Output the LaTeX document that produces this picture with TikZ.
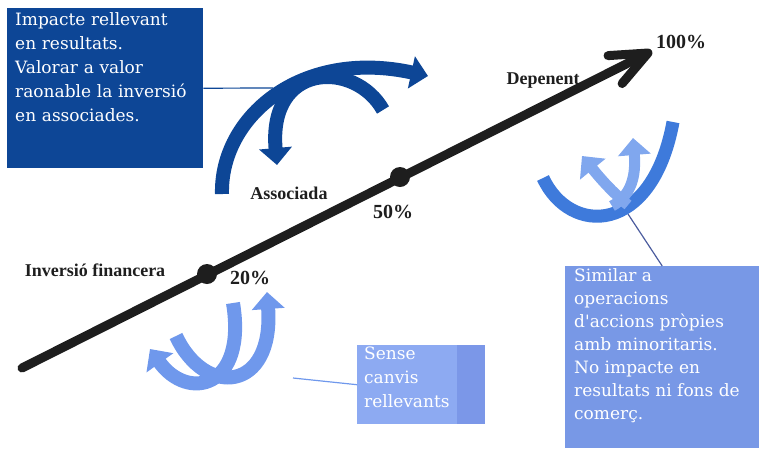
\documentclass[tikz,border=0pt]{standalone}
\usepackage{fontspec}
\setmainfont{Liberation Serif}
\newfontfamily\boxfont{DejaVu Serif}
\usetikzlibrary{arrows.meta}
\definecolor{navy}{HTML}{0D4696}
\definecolor{sky}{HTML}{6F98EC}
\definecolor{skybox}{HTML}{8DAAF2}
\definecolor{skyedge}{HTML}{7B97E8}
\definecolor{midblue}{HTML}{3E7ADB}
\definecolor{paleblue}{HTML}{80A7EE}
\definecolor{rboxc}{HTML}{7898E6}
\definecolor{slate}{HTML}{4B5C9E}
\definecolor{ink}{HTML}{1E1E1E}
\begin{document}
\begin{tikzpicture}[x=1pt, y=-1pt,
box/.style = {anchor=north west, inner sep=0pt},
txt/.style = {anchor=north west, inner sep=0pt, align=left, text=white,
	font=\boxfont\fontsize{17}{24}\selectfont},
lbl/.style = {font=\bfseries\fontsize{18}{20}\selectfont, text=ink},
pct/.style = {font=\bfseries\fontsize{20}{22}\selectfont, text=ink},
dot/.style = {circle, fill=ink, minimum size=20pt, inner sep=0pt},
band/.style = {line width=14pt, -{Triangle[length=17pt, width=32pt]}},
link/.style = {line width=1.2pt}]

\useasboundingbox (0,0) rectangle (759,448);

\node (imp) [box, fill=navy, minimum width=196pt, minimum height=160pt] at (7,8) {};
\node [txt, text width=185pt] at (15,12) {Impacte rellevant\\en resultats.\\Valorar a valor\\raonable la inversió\\en associades.};

\node (sense) [box, fill=skybox, minimum width=128pt, minimum height=79pt] at (357,345) {};
\fill[skyedge] (457,345) rectangle (485,424);
\node [txt] at (364,347) {Sense\\canvis\\rellevants};

\node (rbox) [box, fill=rboxc, minimum width=194pt, minimum height=182pt] at (565,266) {};
\node [txt, font=\boxfont\fontsize{17}{23}\selectfont] at (574,268) {Similar a\\operacions\\d'accions pròpies\\amb minoritaris.\\No impacte en\\resultats ni fons de\\comerç.};

\coordinate (p1) at (273,88);
\coordinate (p2) at (293,378);
\coordinate (p3) at (628,214);
\draw[link, navy] (imp.east) -- (p1);
\draw[link, sky] (p2) -- (sense.west);
\draw[link, slate] (p3) -- (rbox.north);

\draw[band, navy] (222,194) .. controls (220,118) and (300,48) .. (428,76);
\draw[band, navy] (383,110) .. controls (355,60) and (268,62) .. (277,165);
\draw[band, sky] (176,336) .. controls (205,398) and (274,392) .. (267,292);
\draw[band, sky] (233,303) .. controls (247,388) and (188,402) .. (150,349);
\draw[band, midblue, line width=13pt, -] (543,178) .. controls (570,236) and (652,236) .. (673,122);
\draw[band, paleblue, line width=11pt] (628,205) .. controls (612,192) and (600,178) .. (582,156);
\draw[band, paleblue, line width=11pt] (612,206) .. controls (632,195) and (636,175) .. (633,138);

\coordinate (o) at (22,368);
\coordinate (e) at (652,51);
\draw[ink, line width=9pt, line cap=round, -{Straight Barb[angle=46:40pt, round]}] (o) -- (e);

\node (a) [dot] at (207,274) {};
\node (b) [dot] at (400,177) {};

\node [lbl] at (95,270) {Inversió financera};
\node [pct] at (250,278) {20\%};
\node [lbl] at (289,193) {Associada};
\node [pct] at (393,212) {50\%};
\node [lbl] at (543,81) {Depenent};
\node [pct] at (681,42) {100\%};
\end{tikzpicture}
\end{document}
